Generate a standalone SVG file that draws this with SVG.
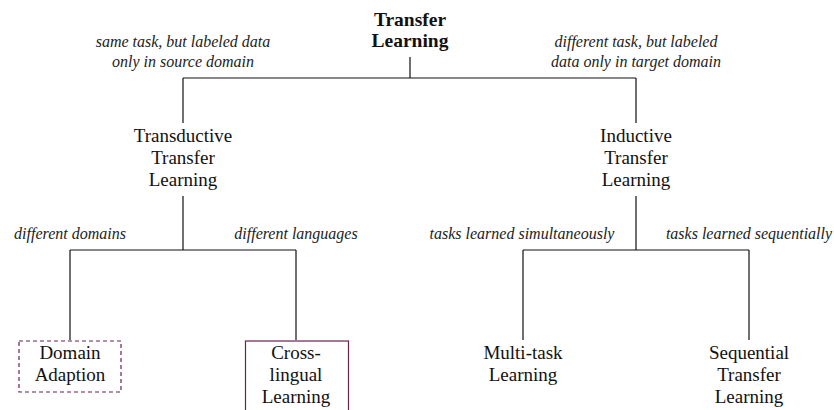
<svg xmlns="http://www.w3.org/2000/svg" width="834" height="410" viewBox="0 0 834 410">
<style>
.n{font-size:19px;fill:#111;text-anchor:middle}
.b{font-weight:bold;font-size:19.5px}
.l{font-size:16px;font-style:italic;fill:#222;text-anchor:middle}
.c{fill:none;stroke:#111;stroke-width:1.2}
.box{fill:none;stroke:#6a2150;stroke-width:1.2}
</style>
<rect width="834" height="410" fill="#fff"/>
<g id="connectors">
<path class="c" d="M410 57V78M183 78H636M183 78V123M636 78V123"/>
<path class="c" d="M183 196V250M70 250H296M70 250V340M296 250V340"/>
<path class="c" d="M636 196V250M523 250H749M523 250V340M749 250V340"/>
</g>
<g font-family="Liberation Serif, serif">
<g id="labels">
<text class="l" x="183" y="47">same task, but labeled data</text>
<text class="l" x="183" y="67">only in source domain</text>
<text class="l" x="636" y="47">different task, but labeled</text>
<text class="l" x="636" y="67">data only in target domain</text>
<text class="l" x="70" y="239">different domains</text>
<text class="l" x="296" y="239">different languages</text>
<text class="l" x="522" y="239">tasks learned simultaneously</text>
<text class="l" x="749" y="239">tasks learned sequentially</text>
</g>
<g id="transfer-learning">
<text class="n b" x="410" y="26">Transfer</text>
<text class="n b" x="410" y="47">Learning</text>
</g>
<g id="transductive">
<text class="n" x="183" y="142">Transductive</text>
<text class="n" x="183" y="164">Transfer</text>
<text class="n" x="183" y="186">Learning</text>
</g>
<g id="inductive">
<text class="n" x="636" y="142">Inductive</text>
<text class="n" x="636" y="164">Transfer</text>
<text class="n" x="636" y="186">Learning</text>
</g>
<g id="domain-adaption">
<rect class="box" x="19" y="341" width="102" height="51" stroke-dasharray="4 3"/>
<text class="n" x="70" y="359">Domain</text>
<text class="n" x="70" y="381">Adaption</text>
</g>
<g id="cross-lingual">
<rect class="box" x="245.5" y="341" width="103" height="80"/>
<text class="n" x="296" y="359">Cross-</text>
<text class="n" x="296" y="381">lingual</text>
<text class="n" x="296" y="403">Learning</text>
</g>
<g id="multi-task">
<text class="n" x="523" y="359">Multi-task</text>
<text class="n" x="523" y="381">Learning</text>
</g>
<g id="sequential">
<text class="n" x="749" y="359">Sequential</text>
<text class="n" x="749" y="381">Transfer</text>
<text class="n" x="749" y="403">Learning</text>
</g>
</g>
</svg>
